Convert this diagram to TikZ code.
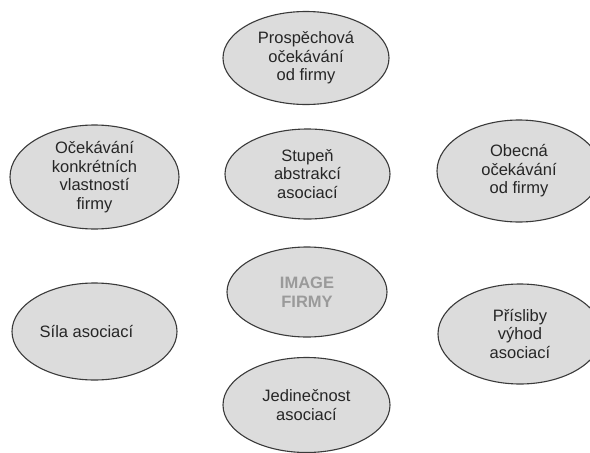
\documentclass[tikz,border=0pt]{standalone}
\usepackage{fontspec}
\setmainfont{Liberation Sans}
\usetikzlibrary{shapes.geometric}
\definecolor{ellfill}{HTML}{DCDCDC}
\definecolor{ellline}{HTML}{3A3A3A}
\definecolor{txt}{HTML}{262626}
\definecolor{imgtxt}{HTML}{9A9A9A}
\tikzset{
  oval/.style={ellipse, draw=ellline, fill=ellfill, line width=1.1pt, inner sep=0pt,
    align=center, text=txt, font=\fontsize{16.5}{18.5}\selectfont},
  mainoval/.style={oval, text=imgtxt, font=\fontsize{16.5}{18.5}\selectfont\bfseries}
}
\begin{document}
\begin{tikzpicture}[x=1pt,y=-1pt]
\useasboundingbox[fill=white] (0,0) rectangle (590,453);
\clip (0,0) rectangle (590,453);
\node[oval, minimum width=166, minimum height=93] (prosp) at (306,58) {Prospěchová\\očekávání\\od firmy};
\node[oval, minimum width=169, minimum height=104] (konkr) at (94.5,177) {Očekávání\\konkrétních\\vlastností\\firmy};
\node[oval, minimum width=165, minimum height=90] (stupen) at (307.5,174) {Stupeň\\abstrakcí\\asociací};
\node[oval, minimum width=164, minimum height=102] (obecna) at (519,171) {Obecná\\očekávání\\od firmy};
\node[mainoval, minimum width=160, minimum height=90] (image) at (307,292) {IMAGE\\FIRMY};
\node[oval, minimum width=165, minimum height=97] (sila) at (94.5,331.5) {Síla asociací\hspace{16pt}};
\node[oval, minimum width=164, minimum height=100] (prisliby) at (520,334) {Přísliby\\výhod\\asociací};
\node[oval, minimum width=167, minimum height=95] (jedin) at (306.5,405) {Jedinečnost\\asociací};
\end{tikzpicture}
\end{document}
